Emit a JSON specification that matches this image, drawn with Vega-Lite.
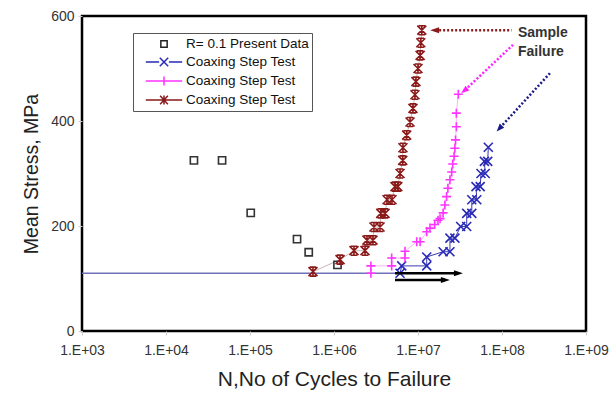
{
  "$schema": "https://vega.github.io/schema/vega-lite/v6.json",
  "width": 504,
  "height": 315,
  "autosize": "none",
  "padding": {"left": 82, "top": 16, "right": 26, "bottom": 64},
  "background": "white",
  "config": {
    "font": "Liberation Sans",
    "view": {"stroke": "black", "strokeWidth": 2.5},
    "axis": {"grid": false, "domain": false}
  },
  "datasets": {
    "pts": [
      {"series": "R= 0.1 Present Data", "i": 1, "N": 21500, "S": 325},
      {"series": "R= 0.1 Present Data", "i": 2, "N": 46500, "S": 325},
      {"series": "R= 0.1 Present Data", "i": 3, "N": 102000, "S": 225},
      {"series": "R= 0.1 Present Data", "i": 4, "N": 363000, "S": 175},
      {"series": "R= 0.1 Present Data", "i": 5, "N": 500000, "S": 150},
      {"series": "R= 0.1 Present Data", "i": 6, "N": 1100000, "S": 126},
      {"series": "Coaxing Step Test A", "i": 1, "N": 6110000, "S": 110},
      {"series": "Coaxing Step Test A", "i": 2, "N": 6400000, "S": 124},
      {"series": "Coaxing Step Test A", "i": 3, "N": 12700000, "S": 124},
      {"series": "Coaxing Step Test A", "i": 4, "N": 12700000, "S": 141},
      {"series": "Coaxing Step Test A", "i": 5, "N": 19900000, "S": 151},
      {"series": "Coaxing Step Test A", "i": 6, "N": 24000000, "S": 151},
      {"series": "Coaxing Step Test A", "i": 7, "N": 24000000, "S": 177},
      {"series": "Coaxing Step Test A", "i": 8, "N": 27500000, "S": 177},
      {"series": "Coaxing Step Test A", "i": 9, "N": 32200000, "S": 199},
      {"series": "Coaxing Step Test A", "i": 10, "N": 38000000, "S": 199},
      {"series": "Coaxing Step Test A", "i": 11, "N": 38000000, "S": 224},
      {"series": "Coaxing Step Test A", "i": 12, "N": 43700000, "S": 224},
      {"series": "Coaxing Step Test A", "i": 13, "N": 43700000, "S": 250},
      {"series": "Coaxing Step Test A", "i": 14, "N": 50100000, "S": 250},
      {"series": "Coaxing Step Test A", "i": 15, "N": 49000000, "S": 275},
      {"series": "Coaxing Step Test A", "i": 16, "N": 55000000, "S": 275},
      {"series": "Coaxing Step Test A", "i": 17, "N": 56200000, "S": 300},
      {"series": "Coaxing Step Test A", "i": 18, "N": 63100000, "S": 300},
      {"series": "Coaxing Step Test A", "i": 19, "N": 61700000, "S": 323},
      {"series": "Coaxing Step Test A", "i": 20, "N": 67600000, "S": 323},
      {"series": "Coaxing Step Test A", "i": 21, "N": 68700000, "S": 350},
      {"series": "Coaxing Step Test B", "i": 1, "N": 2750000, "S": 110},
      {"series": "Coaxing Step Test B", "i": 2, "N": 2750000, "S": 124},
      {"series": "Coaxing Step Test B", "i": 3, "N": 4860000, "S": 124},
      {"series": "Coaxing Step Test B", "i": 4, "N": 4860000, "S": 139},
      {"series": "Coaxing Step Test B", "i": 5, "N": 7000000, "S": 139},
      {"series": "Coaxing Step Test B", "i": 6, "N": 7000000, "S": 152},
      {"series": "Coaxing Step Test B", "i": 7, "N": 9660000, "S": 170},
      {"series": "Coaxing Step Test B", "i": 8, "N": 10600000, "S": 170},
      {"series": "Coaxing Step Test B", "i": 9, "N": 12700000, "S": 189},
      {"series": "Coaxing Step Test B", "i": 10, "N": 13900000, "S": 196},
      {"series": "Coaxing Step Test B", "i": 11, "N": 15800000, "S": 203},
      {"series": "Coaxing Step Test B", "i": 12, "N": 17300000, "S": 211},
      {"series": "Coaxing Step Test B", "i": 13, "N": 18300000, "S": 214},
      {"series": "Coaxing Step Test B", "i": 14, "N": 19900000, "S": 225},
      {"series": "Coaxing Step Test B", "i": 15, "N": 20900000, "S": 240},
      {"series": "Coaxing Step Test B", "i": 16, "N": 21900000, "S": 256},
      {"series": "Coaxing Step Test B", "i": 17, "N": 22700000, "S": 272},
      {"series": "Coaxing Step Test B", "i": 18, "N": 24000000, "S": 288},
      {"series": "Coaxing Step Test B", "i": 19, "N": 25200000, "S": 303},
      {"series": "Coaxing Step Test B", "i": 20, "N": 25900000, "S": 318},
      {"series": "Coaxing Step Test B", "i": 21, "N": 26900000, "S": 333},
      {"series": "Coaxing Step Test B", "i": 22, "N": 27500000, "S": 348},
      {"series": "Coaxing Step Test B", "i": 23, "N": 28000000, "S": 364},
      {"series": "Coaxing Step Test B", "i": 24, "N": 28600000, "S": 389},
      {"series": "Coaxing Step Test B", "i": 25, "N": 28600000, "S": 415},
      {"series": "Coaxing Step Test B", "i": 26, "N": 30200000, "S": 451},
      {"series": "Coaxing Step Test C", "i": 1, "N": 562000, "S": 113},
      {"series": "Coaxing Step Test C", "i": 2, "N": 1180000, "S": 136},
      {"series": "Coaxing Step Test C", "i": 3, "N": 1730000, "S": 153},
      {"series": "Coaxing Step Test C", "i": 4, "N": 2340000, "S": 153},
      {"series": "Coaxing Step Test C", "i": 5, "N": 2470000, "S": 173},
      {"series": "Coaxing Step Test C", "i": 6, "N": 2910000, "S": 173},
      {"series": "Coaxing Step Test C", "i": 7, "N": 2990000, "S": 198},
      {"series": "Coaxing Step Test C", "i": 8, "N": 3530000, "S": 198},
      {"series": "Coaxing Step Test C", "i": 9, "N": 3600000, "S": 224},
      {"series": "Coaxing Step Test C", "i": 10, "N": 4050000, "S": 224},
      {"series": "Coaxing Step Test C", "i": 11, "N": 4280000, "S": 250},
      {"series": "Coaxing Step Test C", "i": 12, "N": 4900000, "S": 250},
      {"series": "Coaxing Step Test C", "i": 13, "N": 5320000, "S": 275},
      {"series": "Coaxing Step Test C", "i": 14, "N": 5750000, "S": 275},
      {"series": "Coaxing Step Test C", "i": 15, "N": 6110000, "S": 300},
      {"series": "Coaxing Step Test C", "i": 16, "N": 6580000, "S": 325},
      {"series": "Coaxing Step Test C", "i": 17, "N": 6620000, "S": 349},
      {"series": "Coaxing Step Test C", "i": 18, "N": 7330000, "S": 373},
      {"series": "Coaxing Step Test C", "i": 19, "N": 8040000, "S": 398},
      {"series": "Coaxing Step Test C", "i": 20, "N": 8710000, "S": 424},
      {"series": "Coaxing Step Test C", "i": 21, "N": 9200000, "S": 450},
      {"series": "Coaxing Step Test C", "i": 22, "N": 9440000, "S": 475},
      {"series": "Coaxing Step Test C", "i": 23, "N": 10000000, "S": 500},
      {"series": "Coaxing Step Test C", "i": 24, "N": 10600000, "S": 525},
      {"series": "Coaxing Step Test C", "i": 25, "N": 10800000, "S": 549},
      {"series": "Coaxing Step Test C", "i": 26, "N": 11100000, "S": 573}
    ],
    "base": [
      {"N": 1000, "S": 110},
      {"N": 6110000, "S": 110}
    ],
    "arrows": [
      {"arrow": "a1", "pt": "start", "N": 5320000, "S": 110},
      {"arrow": "a1", "pt": "end", "N": 29900000, "S": 110},
      {"arrow": "a2", "pt": "start", "N": 5320000, "S": 97},
      {"arrow": "a2", "pt": "end", "N": 20900000, "S": 97},
      {"arrow": "r", "pt": "start", "N": 130000000, "S": 573},
      {"arrow": "r", "pt": "end", "N": 16000000, "S": 573},
      {"arrow": "m", "pt": "start", "N": 135000000, "S": 545},
      {"arrow": "m", "pt": "end", "N": 36300000, "S": 459},
      {"arrow": "n", "pt": "start", "N": 372000000, "S": 491},
      {"arrow": "n", "pt": "end", "N": 94600000, "S": 387}
    ],
    "notes": [
      {"text": "Sample", "N": 155000000, "S": 568},
      {"text": "Failure", "N": 155000000, "S": 531}
    ]
  },
  "encoding": {
    "x": {
      "field": "N",
      "type": "quantitative",
      "scale": {"type": "log", "domain": [1000, 1000000000], "nice": false},
      "axis": {
        "values": [1000, 10000, 100000, 1000000, 10000000, 100000000, 1000000000],
        "labelExpr": "'1.E+0' + round(log(datum.value) / LN10)",
        "title": "N,No of Cycles to Failure",
        "titleFontSize": 21,
        "titleFontWeight": "normal",
        "titleColor": "#222",
        "labelFontSize": 14,
        "labelColor": "#333",
        "tickColor": "#ccc",
        "tickSize": 4,
        "labelPadding": 8,
        "titlePadding": 11,
        "labelFlush": false,
        "labelOverlap": false
      }
    },
    "y": {
      "field": "S",
      "type": "quantitative",
      "scale": {"domain": [0, 600], "nice": false},
      "axis": {
        "values": [0, 200, 400, 600],
        "title": "Mean Stress, MPa",
        "titleFontSize": 19.5,
        "titleFontWeight": "normal",
        "titleColor": "#222",
        "labelFontSize": 14,
        "labelColor": "#333",
        "tickColor": "#ccc",
        "tickSize": 4,
        "labelPadding": 4,
        "titlePadding": 9
      }
    }
  },
  "layer": [
    {
      "data": {"name": "base"},
      "mark": {"type": "line", "color": "#7070b8", "strokeWidth": 1.5},
      "encoding": {}
    },
    {
      "data": {"name": "pts"},
      "transform": [{"filter": "datum.series != 'R= 0.1 Present Data'"}],
      "mark": {"type": "line", "strokeWidth": 1},
      "encoding": {
        "color": {
          "field": "series",
          "type": "nominal",
          "scale": {"domain": ["Coaxing Step Test A", "Coaxing Step Test B", "Coaxing Step Test C"], "range": ["#3a3ab0", "#f5b8f5", "#c8b4b4"]},
          "legend": null
        },
        "order": {"field": "i", "type": "quantitative"}
      }
    },
    {
      "data": {"name": "pts"},
      "mark": {"type": "point", "filled": false, "opacity": 0, "strokeWidth": 1.5},
      "encoding": {
        "shape": {
          "field": "series",
          "type": "nominal",
          "scale": {
            "domain": ["R= 0.1 Present Data", "Coaxing Step Test A", "Coaxing Step Test B", "Coaxing Step Test C"],
            "range": [
              "M-0.45,-0.45H0.45V0.45H-0.45Z",
              "M-2.6,0H-0.7M0.7,0H2.6M-0.6,-0.6L0.6,0.6M-0.6,0.6L0.6,-0.6",
              "M-2.6,0H2.6M0,-0.65V0.65",
              "M-2.6,0H2.6M-0.55,-0.6L0.55,0.6M-0.55,0.6L0.55,-0.6M0,-0.65V0.65"
            ]
          },
          "legend": {
            "orient": "none",
            "legendX": 51,
            "legendY": 17,
            "title": null,
            "strokeColor": "#555",
            "fillColor": "white",
            "padding": 3,
            "symbolSize": 196,
            "symbolOffset": 20,
            "symbolStrokeWidth": 1.5,
            "symbolOpacity": 1,
            "labelOffset": 14,
            "labelFontSize": 13.5,
            "labelColor": "#111",
            "rowPadding": 3,
            "labelExpr": "datum.label == 'R= 0.1 Present Data' ? datum.label : 'Coaxing Step Test'"
          }
        },
        "color": {
          "field": "series",
          "type": "nominal",
          "scale": {
            "domain": ["R= 0.1 Present Data", "Coaxing Step Test A", "Coaxing Step Test B", "Coaxing Step Test C"],
            "range": ["#222222", "#2a2ab8", "#ff33ff", "#8b1a1a"]
          }
        }
      }
    },
    {
      "data": {"name": "pts"},
      "mark": {"type": "point", "filled": false, "strokeWidth": 1.6, "size": 81, "opacity": 1},
      "encoding": {
        "shape": {
          "field": "series",
          "type": "nominal",
          "scale": {
            "domain": ["R= 0.1 Present Data", "Coaxing Step Test A", "Coaxing Step Test B", "Coaxing Step Test C"],
            "range": [
              "M-0.8,-0.8H0.8V0.8H-0.8Z",
              "M-1,-1L1,1M-1,1L1,-1",
              "M-1,0H1M0,-1V1",
              "M-1,-1L1,1M-1,1L1,-1M0,-1V1M-0.7,-1H0.7M-0.7,1H0.7"
            ]
          },
          "legend": null
        },
        "color": {
          "field": "series",
          "type": "nominal",
          "scale": {
            "domain": ["R= 0.1 Present Data", "Coaxing Step Test A", "Coaxing Step Test B", "Coaxing Step Test C"],
            "range": ["#333333", "#2a2ab8", "#ff33ff", "#8b1a1a"]
          },
          "legend": null
        }
      }
    },
    {
      "data": {"name": "arrows"},
      "mark": {"type": "line", "strokeWidth": 2.5},
      "encoding": {
        "color": {
          "field": "arrow",
          "type": "nominal",
          "scale": {"domain": ["a1", "a2", "r", "m", "n"], "range": ["#000000", "#000000", "#8b1a1a", "#ff22ff", "#1a1a8a"]},
          "legend": null
        },
        "strokeDash": {
          "field": "arrow",
          "type": "nominal",
          "scale": {"domain": ["a1", "a2", "r", "m", "n"], "range": [[1, 0], [1, 0], [2, 2], [2, 2], [2, 2]]},
          "legend": null
        }
      }
    },
    {
      "data": {"name": "arrows"},
      "transform": [{"filter": "datum.pt == 'end'"}],
      "mark": {"type": "point", "filled": true, "size": 100, "opacity": 1},
      "encoding": {
        "color": {
          "field": "arrow",
          "type": "nominal",
          "scale": {"domain": ["a1", "a2", "r", "m", "n"], "range": ["#000000", "#000000", "#8b1a1a", "#ff22ff", "#1a1a8a"]},
          "legend": null
        },
        "shape": {
          "field": "arrow",
          "type": "nominal",
          "scale": {
            "domain": ["a1", "a2", "r", "m", "n"],
            "range": [
              "M1,0L-0.8,-0.6L-0.8,0.6Z",
              "M1,0L-0.8,-0.6L-0.8,0.6Z",
              "M-1,0L0.8,-0.6L0.8,0.6Z",
              "M-0.78,0.63L0.85,0.1L0.1,-0.85Z",
              "M-0.67,0.74L0.85,-0.04L-0.04,-0.85Z"
            ]
          },
          "legend": null
        }
      }
    },
    {
      "data": {"name": "notes"},
      "mark": {"type": "text", "align": "left", "baseline": "middle", "fontSize": 14, "fontWeight": "bold", "color": "#333"},
      "encoding": {"text": {"field": "text"}}
    }
  ],
  "resolve": {"scale": {"color": "independent", "shape": "independent", "strokeDash": "independent"}}
}
